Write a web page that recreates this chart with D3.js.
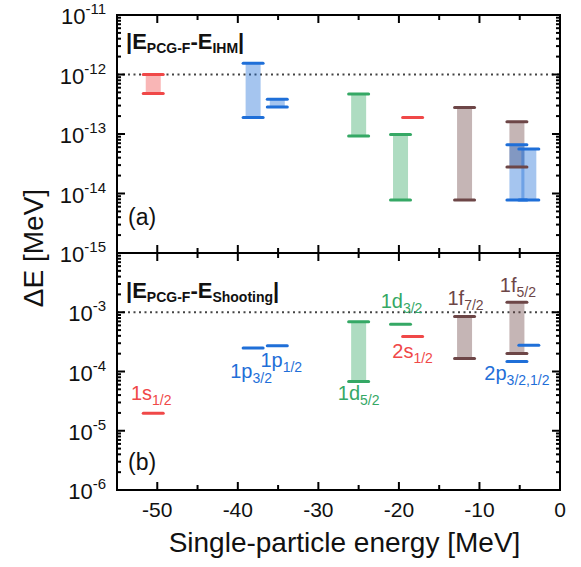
<!DOCTYPE html>
<html>
<head>
<meta charset="utf-8">
<script src="https://cdn.jsdelivr.net/npm/d3@7"></script>
<style>
  body { margin: 0; background: #fff; }
  svg { font-family: Arial, "Liberation Sans", sans-serif; }
</style>
</head>
<body>
<div id="chart"></div>
<script>
// single-particle levels
const levels = ["1s1/2", "1p3/2", "1p1/2", "1d5/2", "1d3/2", "2s1/2", "1f7/2", "1f5/2", "2p3/2", "2p1/2"];
const energies = [-50.5, -38.1, -35.1, -25.0, -19.8, -18.3, -11.85, -5.35, -5.35, -3.87];
const groups = ["s", "p", "p", "d", "d", "s", "f", "f", "p", "p"];

// |E_PCG-F - E_IHM|
const ihmMin = [4.8e-13, 1.9e-13, 2.84e-13, 9.3e-14, 7.8e-15, 1.9e-13, 7.8e-15, 2.8e-14, 7.8e-15, 7.8e-15];
const ihmMax = [1.0e-12, 1.55e-12, 3.83e-13, 4.7e-13, 9.8e-14, 1.9e-13, 2.8e-13, 1.6e-13, 6.6e-14, 5.6e-14];

// |E_PCG-F - E_Shooting|
const shootMin = [1.97e-5, 2.5e-4, 2.73e-4, 6.8e-5, 6.25e-4, 3.9e-4, 1.66e-4, 2.02e-4, 1.47e-4, 2.77e-4];
const shootMax = [1.97e-5, 2.5e-4, 2.73e-4, 6.9e-4, 6.25e-4, 3.9e-4, 8.5e-4, 1.48e-3, 1.47e-4, 2.77e-4];

// level labels (bottom panel)
const labelMain = ["1s", "1p", "1p", "1d", "1d", "2s", "1f", "1f", "2p", null];
const labelSub = ["1/2", "3/2", "1/2", "5/2", "3/2", "1/2", "7/2", "5/2", "3/2,1/2", null];

const xTicks = [-50, -40, -30, -20, -10, 0];
const topExps = [-11, -12, -13, -14, -15];
const botExps = [-3, -4, -5, -6];

const groupColor = { s: "#f04848", p: "#1f6fd8", d: "#35a865", f: "#6d4647" };

// label placement (pixels relative to the mark)
const labelPos = [
  { dx: -2, dy: -13, ref: "min" },
  { dx: -2, dy: 30, ref: "min" },
  { dx: 4, dy: 21, ref: "min" },
  { dx: 0, dy: 19, ref: "min" },
  { dx: 1, dy: -16, ref: "max" },
  { dx: 0, dy: 22, ref: "min" },
  { dx: 1, dy: -11, ref: "max" },
  { dx: 1, dy: -10, ref: "max" },
  { dx: 0, dy: 18, ref: "min" },
  null
];

let width = 581, height = 567;
let mLeft = 117, mRight = 560, mTop = 15, mMid = 253, mBottom = 490;

let svg = d3.select("#chart").append("svg")
  .attr("width", width)
  .attr("height", height);

let x = d3.scaleLinear().domain([-55, 0]).range([mLeft, mRight]);
let yTop = d3.scaleLog().domain([1e-15, 1e-11]).range([mMid, mTop]);
let yBot = d3.scaleLog().domain([1e-6, 1e-2]).range([mBottom, mMid]);

let capW = 20, fillW = 15;

function drawPanel(y, lo, hi, refVal) {
  let g = svg.append("g");

  // reference dotted line
  g.append("line")
    .attr("x1", mLeft).attr("x2", mRight)
    .attr("y1", y(refVal)).attr("y2", y(refVal))
    .attr("stroke", "#444")
    .attr("stroke-width", 2)
    .attr("stroke-dasharray", "2,3.5");

  let idx = d3.range(levels.length);

  // range fills
  g.selectAll("rect.range")
    .data(idx.filter(i => lo[i] !== hi[i]))
    .enter().append("rect")
    .attr("class", "range")
    .attr("x", i => x(energies[i]) - fillW / 2)
    .attr("width", fillW)
    .attr("y", i => y(hi[i]))
    .attr("height", i => y(lo[i]) - y(hi[i]))
    .attr("fill", i => groupColor[groups[i]])
    .attr("fill-opacity", 0.4);

  // caps
  let caps = [];
  idx.forEach(i => {
    caps.push({ i: i, v: hi[i] });
    if (lo[i] !== hi[i]) caps.push({ i: i, v: lo[i] });
  });
  g.selectAll("line.cap")
    .data(caps)
    .enter().append("line")
    .attr("class", "cap")
    .attr("x1", d => x(energies[d.i]) - capW / 2)
    .attr("x2", d => x(energies[d.i]) + capW / 2)
    .attr("y1", d => y(d.v))
    .attr("y2", d => y(d.v))
    .attr("stroke", d => groupColor[groups[d.i]])
    .attr("stroke-width", 3)
    .attr("stroke-linecap", "round");
}

drawPanel(yTop, ihmMin, ihmMax, 1e-12);
drawPanel(yBot, shootMin, shootMax, 1e-3);

// frame
let frame = svg.append("g")
  .attr("fill", "none")
  .attr("stroke", "#000")
  .attr("stroke-width", 2);
frame.append("rect")
  .attr("x", mLeft).attr("y", mTop)
  .attr("width", mRight - mLeft).attr("height", mBottom - mTop);
frame.append("line")
  .attr("x1", mLeft).attr("x2", mRight)
  .attr("y1", mMid).attr("y2", mMid);

// x ticks
let xMinor = [-45, -35, -25, -15, -5];
let tickG = svg.append("g").attr("stroke", "#000").attr("stroke-width", 2);
function xTickSet(vals, len) {
  vals.forEach(v => {
    let px = x(v);
    [[mTop, len], [mMid, -len], [mMid, len], [mBottom, -len]].forEach(([y0, l]) => {
      tickG.append("line")
        .attr("x1", px).attr("x2", px)
        .attr("y1", y0).attr("y2", y0 + l);
    });
  });
}
xTickSet(xTicks.filter(v => v > -55 && v < 0), 8);
xTickSet(xMinor, 5);

// y ticks
function yTickSet(y, lo, hi) {
  for (let e = lo; e < hi; e++) {
    for (let m = 1; m <= 9; m++) {
      let v = m * Math.pow(10, e);
      let py = y(v);
      let l = m === 1 ? 8 : 4;
      if (m === 1 && e === lo) continue;
      tickG.append("line").attr("x1", mLeft).attr("x2", mLeft + l).attr("y1", py).attr("y2", py);
      tickG.append("line").attr("x1", mRight).attr("x2", mRight - l).attr("y1", py).attr("y2", py);
    }
  }
}
yTickSet(yTop, -15, -11);
yTickSet(yBot, -6, -2);

// x tick labels
svg.append("g").selectAll("text")
  .data(xTicks)
  .enter().append("text")
  .attr("x", d => x(d))
  .attr("y", 517)
  .attr("text-anchor", "middle")
  .attr("font-size", 21)
  .attr("fill", "#111")
  .text(d => d);

// y tick labels
function yLabels(y, exps) {
  let t = svg.append("g").selectAll("text")
    .data(exps)
    .enter().append("text")
    .attr("x", 106)
    .attr("y", d => y(Math.pow(10, d)) + 9)
    .attr("text-anchor", "end")
    .attr("font-size", 22)
    .attr("fill", "#111");
  t.append("tspan").text("10");
  t.append("tspan")
    .attr("font-size", 15)
    .attr("dy", -10)
    .text(d => "-" + Math.abs(d));
}
yLabels(yTop, topExps);
yLabels(yBot, botExps);

// axis titles
svg.append("text")
  .attr("x", (mLeft + mRight) / 2 + 6)
  .attr("y", 552)
  .attr("text-anchor", "middle")
  .attr("font-size", 28)
  .attr("fill", "#111")
  .text("Single-particle energy [MeV]");

svg.append("text")
  .attr("transform", "translate(43," + (mMid - 5) + ") rotate(-90)")
  .attr("text-anchor", "middle")
  .attr("font-size", 28)
  .attr("fill", "#111")
  .text("\u0394E [MeV]");

// panel headings
function heading(yb, sub2) {
  let t = svg.append("text")
    .attr("x", 126).attr("y", yb)
    .attr("font-size", 22)
    .attr("font-weight", "bold")
    .attr("fill", "#111");
  t.append("tspan").text("|E");
  t.append("tspan").attr("font-size", 14).attr("dy", 4).text("PCG-F");
  t.append("tspan").attr("dy", -4).text("-E");
  t.append("tspan").attr("font-size", 14).attr("dy", 4).text(sub2);
  t.append("tspan").attr("dy", -4).text("|");
}
heading(49, "IHM");
heading(298, "Shooting");

svg.append("text").attr("x", 128).attr("y", 225)
  .attr("font-size", 23).attr("fill", "#111").text("(a)");
svg.append("text").attr("x", 128).attr("y", 470)
  .attr("font-size", 23).attr("fill", "#111").text("(b)");

// level labels
d3.range(levels.length).forEach(i => {
  let p = labelPos[i];
  if (!p || !labelMain[i]) return;
  let v = p.ref === "min" ? shootMin[i] : shootMax[i];
  let t = svg.append("text")
    .attr("x", x(energies[i]) + p.dx)
    .attr("y", yBot(v) + p.dy)
    .attr("text-anchor", "middle")
    .attr("font-size", 20)
    .attr("fill", groupColor[groups[i]]);
  t.append("tspan").text(labelMain[i]);
  t.append("tspan").attr("font-size", 14).attr("dy", 5).text(labelSub[i]);
});
</script>
</body>
</html>
